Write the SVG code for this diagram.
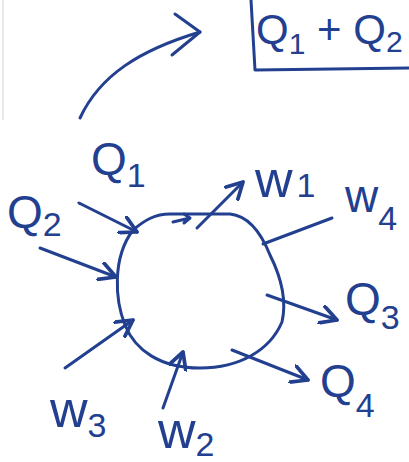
<svg xmlns="http://www.w3.org/2000/svg" width="409" height="462" viewBox="0 0 409 462">
<style>
.ink{fill:none;stroke:#22408f;stroke-width:3;stroke-linecap:round;stroke-linejoin:round}
.arr{marker-end:url(#v)}
text{font-family:"Liberation Sans","DejaVu Sans",sans-serif;fill:#22408f;font-size:46px}
.d{font-size:34px}
.w{font-size:52px}
.b{font-size:42px}
.bd{font-size:30px}
</style>
<defs>
<marker id="v" markerUnits="userSpaceOnUse" markerWidth="20" markerHeight="20" refX="14" refY="8" orient="auto" viewBox="0 0 16 16">
<path d="M1,1 L14,8 L1,15" fill="none" stroke="#22408f" stroke-width="3" stroke-linecap="round" stroke-linejoin="round"/>
</marker>
</defs>
<rect width="409" height="462" fill="#fff"/>
<line x1="3" y1="0" x2="3" y2="120" stroke="#e2e2e2" stroke-width="1.5"/>
<g id="box">
<path class="ink" d="M251,0 L255,70 L409,68"/>
<text x="256" y="44" class="b">Q<tspan class="bd" dy="10">1</tspan><tspan dy="-10"> + Q</tspan><tspan class="bd" dy="8">2</tspan></text>
</g>
<g id="system">
<path class="ink" d="M133,230 C145,220 155,214 170,214 L230,214 C250,216 262,235 270,255 C280,275 287,300 282,322 C270,350 240,368 200,368 C160,368 135,350 125,325 C115,300 112,258 133,230 Z"/>
</g>
<g id="connectors">
<path class="ink" d="M80,118 C100,75 140,50 200,32"/>
<path class="ink" d="M175,14 L200,32 L172,55"/>
<path class="ink arr" d="M79,203 L137,232"/>
<path class="ink arr" d="M40,248 L116,277"/>
<path class="ink arr" d="M197,228 L243,182"/>
<path class="ink" d="M173,222 L190,218 M184,214 L190,218 L184,223"/>
<path class="ink" d="M263,244 L332,218"/>
<path class="ink arr" d="M267,295 L337,320"/>
<path class="ink arr" d="M65,368 L133,320"/>
<path class="ink arr" d="M163,408 L183,352"/>
<path class="ink arr" d="M232,350 L308,380"/>
</g>
<g id="labels">
<text x="91" y="175">Q<tspan class="d" dy="12">1</tspan></text>
<text x="7" y="228">Q<tspan class="d" dy="8">2</tspan></text>
<text x="255" y="197" class="w">w<tspan class="d" dx="4">1</tspan></text>
<text x="345" y="212">w<tspan class="d" dy="18">4</tspan></text>
<text x="345" y="315">Q<tspan class="d" dy="14">3</tspan></text>
<text x="320" y="397">Q<tspan class="d" dy="20">4</tspan></text>
<text x="50" y="427" class="w">w<tspan class="d" dy="10">3</tspan></text>
<text x="158" y="448" class="w">w<tspan class="d" dy="8">2</tspan></text>
</g>
</svg>
